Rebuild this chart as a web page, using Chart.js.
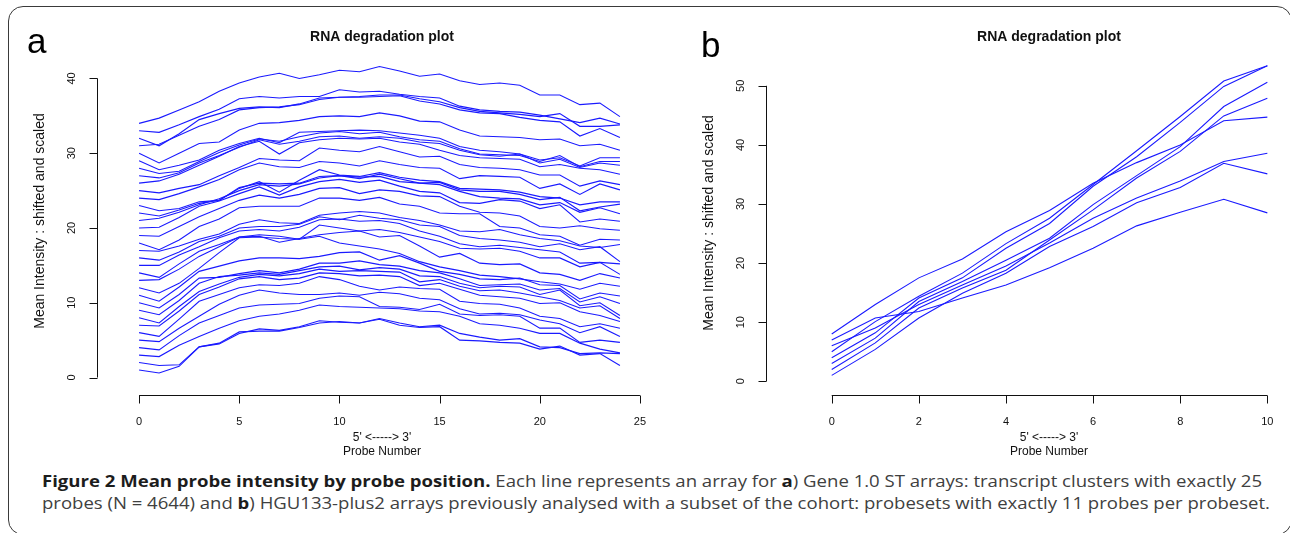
<!DOCTYPE html>
<html>
<head>
<meta charset="utf-8">
<script src="https://cdn.jsdelivr.net/npm/chart.js@4.4.1/dist/chart.umd.min.js"></script>
<style>
  html, body { margin: 0; padding: 0; background: #fff; }
  body { width: 1290px; height: 533px; position: relative; overflow: hidden; }
  canvas { position: absolute; top: 0; }
  #frame {
    position: absolute; left: 8px; top: 6px; width: 1284px; height: 529px;
    border: 1.6px solid #3a3a3a; border-radius: 15px; box-sizing: border-box;
  }
  .tag { position: absolute; font: 35px/35px "Liberation Sans", Arial, sans-serif; color: #000; }
  .cap {
    position: absolute; left: 42px; white-space: nowrap; display: inline-block;
    font: 16px/22px "Open Sans", "Noto Sans", sans-serif; color: #404040;
    transform-origin: 0 50%;
  }
  .cap b { color: #1c1c1c; font-weight: 700; }
</style>
</head>
<body>
<div id="frame"></div>
<canvas id="panelA" width="660" height="470" style="left:0"></canvas>
<canvas id="panelB" width="630" height="470" style="left:660px"></canvas>
<div class="tag" style="left:27px; top:23px">a</div>
<div class="tag" style="left:701px; top:27px">b</div>
<div id="cap1" class="cap" style="top:470px"><b>Figure 2 Mean probe intensity by probe position.</b> Each line represents an array for <b>a</b>) Gene 1.0 ST arrays: transcript clusters with exactly 25</div>
<div id="cap2" class="cap" style="top:492px">probes (N = 4644) and <b>b</b>) HGU133-plus2 arrays previously analysed with a subset of the cohort: probesets with exactly 11 probes per probeset.</div>

<script>
// probe positions
const probeA = [0, 1, 2, 3, 4, 5, 6, 7, 8, 9, 10, 11, 12, 13, 14, 15, 16, 17, 18, 19, 20, 21, 22, 23, 24];
const probeB = [0, 1, 2, 3, 4, 5, 6, 7, 8, 9, 10];

// tick labels
const xTicksA = [0, 5, 10, 15, 20, 25];
const yTicksA = [0, 10, 20, 30, 40];
const xTicksB = [0, 2, 4, 6, 8, 10];
const yTicksB = [0, 10, 20, 30, 40, 50];

const titleText = 'RNA degradation plot';
const yTitle = 'Mean Intensity : shifted and scaled';
const xTitle = ["5' <-----> 3'", 'Probe Number'];

// panel a: Gene 1.0 ST arrays (one line per array)
const a01 = [1.0, 0.6, 1.5, 4.1, 4.6, 6.1, 6.2, 6.2, 6.7, 7.3, 7.5, 7.3, 7.8, 7.0, 6.7, 6.8, 5.0, 4.9, 4.7, 4.6, 3.8, 4.2, 3.0, 3.2, 1.6];
const a02 = [2.0, 1.6, 1.7, 4.1, 4.5, 5.9, 6.5, 6.3, 6.8, 7.6, 7.4, 7.3, 7.9, 7.3, 6.8, 7.0, 5.9, 5.4, 5.0, 5.2, 4.1, 4.0, 3.2, 3.3, 3.2];
const a03 = [3.0, 2.8, 4.3, 5.5, 6.6, 7.6, 8.2, 8.5, 9.0, 9.7, 9.5, 9.4, 9.3, 9.2, 8.9, 8.8, 8.2, 7.2, 7.0, 6.6, 5.9, 5.9, 4.6, 3.8, 3.3];
const a04 = [4.0, 3.7, 5.6, 7.3, 8.3, 9.3, 9.7, 9.8, 9.9, 10.6, 10.9, 10.8, 9.5, 9.4, 9.1, 9.8, 8.5, 8.3, 8.4, 8.2, 6.6, 6.6, 4.7, 5.0, 4.7];
const a05 = [5.0, 4.8, 6.6, 8.2, 9.8, 11.0, 11.7, 11.3, 11.1, 11.1, 11.3, 11.0, 11.4, 11.2, 10.6, 10.4, 9.2, 8.5, 8.6, 8.4, 7.7, 7.2, 6.0, 6.8, 5.5];
const a06 = [6.0, 5.5, 7.8, 10.2, 11.1, 12.0, 12.4, 12.3, 12.6, 13.5, 13.1, 12.2, 11.7, 12.1, 11.9, 11.8, 10.2, 9.9, 9.8, 9.3, 8.2, 7.9, 6.8, 7.2, 6.6];
const a07 = [7.0, 6.9, 8.9, 11.1, 12.1, 13.2, 13.5, 13.1, 13.3, 14.0, 13.9, 13.6, 13.7, 13.5, 12.3, 12.6, 11.8, 11.0, 10.8, 10.6, 9.9, 10.0, 8.8, 8.3, 7.5];
const a08 = [8.0, 7.3, 9.5, 11.5, 12.5, 13.4, 13.8, 13.6, 13.9, 14.5, 14.2, 14.3, 14.2, 14.1, 12.8, 13.1, 12.2, 11.6, 11.7, 11.3, 10.8, 10.3, 9.3, 9.6, 7.9];
const a09 = [9.0, 8.4, 10.3, 12.6, 13.5, 13.7, 14.0, 13.8, 14.3, 14.8, 14.9, 14.4, 14.7, 14.5, 13.6, 13.5, 12.6, 12.0, 12.2, 12.1, 11.1, 11.7, 9.6, 10.0, 8.3];
const a10 = [10.0, 9.3, 11.1, 13.3, 13.4, 13.9, 14.3, 14.0, 14.5, 15.3, 15.3, 15.6, 15.1, 14.9, 14.3, 14.0, 13.2, 12.3, 12.4, 12.5, 11.7, 11.9, 10.1, 10.8, 9.9];
const a11 = [11.0, 10.2, 12.1, 14.2, 14.9, 15.6, 16.0, 16.0, 15.9, 16.2, 16.7, 16.8, 15.7, 16.3, 15.3, 14.2, 13.8, 13.2, 13.1, 13.3, 12.4, 12.3, 10.5, 11.3, 10.9];
const a12 = [12.0, 11.3, 12.6, 14.6, 16.7, 18.7, 18.8, 18.6, 18.5, 18.9, 18.0, 17.6, 17.2, 16.6, 15.5, 14.8, 14.3, 13.7, 13.5, 13.2, 12.8, 12.5, 11.8, 12.6, 12.2];
const a13 = [13.0, 13.1, 14.5, 16.2, 17.5, 18.8, 18.9, 18.1, 18.6, 19.1, 19.4, 19.6, 18.8, 19.0, 17.6, 16.1, 16.6, 15.3, 15.1, 15.2, 14.0, 13.8, 13.0, 13.9, 13.3];
const a14 = [14.0, 13.4, 15.2, 16.9, 17.8, 18.8, 19.1, 18.9, 18.5, 20.4, 20.0, 19.6, 19.8, 19.4, 18.8, 18.2, 17.3, 17.2, 17.3, 16.9, 16.0, 16.0, 14.8, 15.4, 13.8];
const a15 = [15.0, 15.0, 16.4, 17.5, 18.7, 19.6, 19.8, 19.6, 20.1, 21.1, 21.2, 20.9, 21.0, 20.6, 19.6, 18.9, 17.9, 17.5, 17.7, 17.4, 17.1, 16.8, 15.3, 15.4, 15.2];
const a16 = [16.0, 15.7, 16.8, 18.2, 18.9, 20.0, 20.2, 20.2, 20.5, 21.5, 21.1, 21.7, 21.3, 21.1, 20.4, 20.2, 19.0, 18.6, 18.4, 18.1, 17.5, 17.9, 17.1, 17.5, 15.5];
const a17 = [17.0, 16.9, 17.6, 18.5, 19.2, 20.5, 21.1, 20.7, 20.6, 21.7, 22.0, 22.2, 22.0, 21.4, 21.0, 20.4, 19.6, 19.5, 19.8, 19.1, 18.6, 18.3, 17.6, 17.4, 17.8];
const a18 = [18.0, 17.1, 18.4, 20.2, 21.2, 22.7, 22.9, 22.9, 22.9, 24.0, 24.0, 23.7, 24.1, 23.2, 22.9, 22.0, 21.9, 21.9, 20.2, 20.0, 19.1, 18.9, 17.7, 18.5, 18.4];
const a19 = [19.0, 18.9, 20.2, 21.5, 22.6, 23.7, 24.4, 24.0, 24.5, 25.3, 25.4, 24.6, 25.1, 24.9, 24.3, 24.2, 22.9, 22.1, 22.0, 21.6, 20.2, 20.0, 20.3, 19.9, 19.7];
const a20 = [20.0, 20.1, 21.4, 22.9, 23.6, 24.6, 25.5, 24.4, 25.5, 26.2, 26.5, 26.1, 26.4, 25.6, 24.9, 24.7, 23.4, 23.3, 23.8, 23.6, 22.6, 23.1, 20.8, 21.2, 20.9];
const a21 = [21.0, 21.3, 22.1, 23.1, 23.9, 25.0, 25.8, 25.6, 25.9, 26.7, 27.0, 26.8, 26.9, 26.2, 26.0, 25.8, 24.9, 24.2, 24.0, 23.9, 23.1, 23.4, 22.1, 22.7, 21.9];
const a22 = [22.0, 21.6, 22.4, 23.3, 23.7, 25.4, 26.0, 25.9, 26.0, 26.9, 27.0, 26.6, 27.2, 26.6, 26.0, 26.1, 25.1, 24.9, 24.9, 24.5, 23.8, 24.1, 22.3, 22.8, 23.2];
const a23 = [23.0, 22.3, 22.6, 23.5, 23.7, 25.3, 26.2, 24.8, 26.4, 27.8, 27.1, 26.9, 27.4, 26.8, 26.4, 26.2, 25.3, 25.2, 25.1, 24.8, 24.2, 24.0, 23.1, 23.5, 23.5];
const a24 = [24.0, 23.8, 24.6, 25.5, 26.5, 27.8, 28.7, 28.2, 28.1, 28.9, 28.7, 28.3, 29.0, 28.5, 28.1, 28.0, 26.6, 27.0, 26.9, 26.8, 25.3, 25.9, 24.5, 25.9, 25.1];
const a25 = [25.0, 24.7, 25.3, 25.8, 27.0, 28.1, 29.3, 29.1, 29.0, 30.7, 30.4, 30.2, 30.9, 30.2, 29.5, 29.6, 28.5, 28.1, 28.0, 27.8, 27.1, 27.1, 25.6, 26.3, 25.8];
const a26 = [26.0, 26.3, 27.2, 28.4, 29.6, 30.9, 31.6, 29.9, 31.4, 31.8, 32.0, 31.9, 32.0, 31.5, 31.2, 30.4, 29.7, 29.4, 29.3, 29.2, 28.2, 28.5, 28.0, 27.8, 27.2];
const a27 = [27.0, 26.7, 27.4, 28.7, 29.7, 30.8, 31.8, 31.2, 31.6, 32.2, 32.3, 32.0, 32.2, 32.0, 31.5, 31.3, 30.4, 29.8, 29.6, 29.9, 28.7, 29.2, 28.1, 28.7, 28.4];
const a28 = [28.0, 27.3, 27.6, 28.9, 30.1, 31.1, 31.9, 31.6, 32.2, 32.7, 32.9, 32.6, 32.8, 32.2, 31.8, 31.6, 30.6, 29.9, 29.8, 29.7, 28.9, 29.7, 28.2, 28.9, 28.9];
const a29 = [29.0, 27.8, 28.4, 29.1, 30.4, 31.3, 32.0, 31.4, 32.8, 32.9, 33.0, 33.1, 33.0, 32.7, 32.4, 32.0, 30.9, 30.4, 30.2, 29.9, 29.1, 29.4, 28.3, 29.4, 29.4];
const a30 = [30.0, 28.7, 30.0, 31.3, 31.5, 33.1, 34.0, 34.1, 34.4, 34.9, 35.0, 34.9, 35.4, 35.0, 34.3, 34.2, 33.1, 32.3, 32.2, 32.1, 31.8, 31.9, 31.0, 31.2, 30.4];
const a31 = [31.0, 31.2, 32.4, 33.6, 34.5, 35.8, 36.1, 36.2, 36.5, 37.2, 37.5, 37.5, 37.6, 37.7, 37.0, 36.6, 35.8, 35.4, 35.3, 34.8, 34.4, 34.2, 32.3, 33.3, 32.1];
const a32 = [32.0, 31.0, 32.6, 34.5, 35.3, 36.0, 36.2, 36.1, 36.6, 37.4, 37.5, 37.6, 37.8, 37.8, 37.3, 36.9, 36.1, 35.6, 35.4, 35.2, 34.9, 35.3, 33.6, 33.6, 33.8];
const a33 = [33.0, 32.8, 33.8, 34.9, 35.9, 37.3, 37.6, 37.4, 37.6, 37.6, 38.5, 38.2, 38.3, 37.9, 37.6, 37.4, 36.3, 35.8, 35.6, 35.5, 35.1, 34.6, 34.1, 34.7, 33.9];
const a34 = [34.0, 34.7, 35.8, 36.9, 38.3, 39.4, 40.2, 40.7, 40.0, 40.5, 41.1, 40.9, 41.6, 41.0, 40.3, 40.6, 39.7, 39.2, 39.4, 39.1, 37.8, 37.8, 36.5, 36.7, 34.9];

// panel b: HGU133-plus2 arrays
const b1 = [1, 5.4, 10.7, 14.9, 18.3, 22.8, 26.2, 30.2, 32.8, 36.9, 35.1];
const b2 = [2, 6.5, 12.4, 15.8, 18.8, 23.9, 29.0, 34.4, 38.9, 44.9, 47.9];
const b3 = [3, 7.3, 13.5, 16.9, 20.5, 24.2, 29.9, 34.8, 39.7, 46.5, 50.6];
const b4 = [4, 8.2, 14.1, 17.5, 22.5, 26.7, 33.0, 38.0, 43.8, 49.9, 53.4];
const b5 = [5, 10.1, 14.4, 18.3, 23.3, 27.6, 33.3, 39.0, 44.8, 50.8, 53.4];
const b6 = [6, 9.0, 13.0, 16.3, 19.5, 23.4, 27.6, 31.0, 33.9, 37.2, 38.6];
const b7 = [7, 10.7, 11.8, 14.1, 16.3, 19.2, 22.5, 26.3, 28.6, 30.8, 28.5];
const b8 = [8, 13.0, 17.5, 20.7, 25.3, 28.9, 33.5, 37.0, 40.0, 44.1, 44.7];

const seriesA = [a01, a02, a03, a04, a05, a06, a07, a08, a09, a10, a11, a12, a13, a14, a15, a16, a17,
                 a18, a19, a20, a21, a22, a23, a24, a25, a26, a27, a28, a29, a30, a31, a32, a33, a34];
const seriesB = [b1, b2, b3, b4, b5, b6, b7, b8];

const lineBlue = '#1a1aff';
const rFont = '"Liberation Sans", Arial, Helvetica, sans-serif';

// R-like axes: lines only between first and last tick, detached labels
const rStyleAxes = {
    id: 'rStyleAxes',
    afterDraw(chart, args, opts) {
        const { ctx, chartArea } = chart;
        const xs = chart.scales.x;
        const ys = chart.scales.y;
        ctx.save();
        ctx.strokeStyle = '#111';
        ctx.fillStyle = '#111';
        ctx.lineWidth = 1;

        const yb = Math.round(chartArea.bottom) + 0.5;
        const xl = Math.round(chartArea.left) + 0.5;
        ctx.beginPath();
        ctx.moveTo(xs.getPixelForValue(opts.xTicks[0]), yb);
        ctx.lineTo(xs.getPixelForValue(opts.xTicks[opts.xTicks.length - 1]), yb);
        opts.xTicks.forEach(v => {
            const px = Math.round(xs.getPixelForValue(v)) + 0.5;
            ctx.moveTo(px, yb);
            ctx.lineTo(px, yb + 8);
        });
        ctx.moveTo(xl, ys.getPixelForValue(opts.yTicks[0]));
        ctx.lineTo(xl, ys.getPixelForValue(opts.yTicks[opts.yTicks.length - 1]));
        opts.yTicks.forEach(v => {
            const py = Math.round(ys.getPixelForValue(v)) + 0.5;
            ctx.moveTo(xl, py);
            ctx.lineTo(xl - 8, py);
        });
        ctx.stroke();

        ctx.font = `11px ${rFont}`;
        ctx.textAlign = 'center';
        ctx.textBaseline = 'middle';
        opts.xTicks.forEach(v => ctx.fillText(String(v), xs.getPixelForValue(v), yb + 26));
        opts.yTicks.forEach(v => {
            ctx.save();
            ctx.translate(xl - 26, ys.getPixelForValue(v));
            ctx.rotate(-Math.PI / 2);
            ctx.fillText(String(v), 0, 0);
            ctx.restore();
        });

        ctx.font = `12px ${rFont}`;
        xTitle.forEach((line, i) => ctx.fillText(line, opts.centerX, yb + 42 + i * 14));
        ctx.save();
        ctx.translate(xl - 57, opts.yTitleY);
        ctx.rotate(-Math.PI / 2);
        ctx.font = `14px ${rFont}`;
        ctx.fillText(yTitle, 0, 0);
        ctx.restore();

        ctx.font = `bold 14px ${rFont}`;
        ctx.textBaseline = 'alphabetic';
        ctx.fillText(titleText, opts.centerX, 40.5);
        ctx.restore();
    }
};

function buildPanel(canvasId, probes, series, xRange, yRange, padding, axisOpts) {
    const ctx = document.getElementById(canvasId).getContext('2d');
    return new Chart(ctx, {
        type: 'line',
        data: {
            datasets: series.map(vals => ({
                data: vals.map((v, i) => ({ x: probes[i], y: v })),
                borderColor: lineBlue,
                borderWidth: 1.1,
                pointRadius: 0,
                tension: 0,
                fill: false
            }))
        },
        options: {
            responsive: false,
            animation: false,
            devicePixelRatio: 1,
            layout: { padding: padding },
            scales: {
                x: { type: 'linear', min: xRange[0], max: xRange[1], display: false },
                y: { type: 'linear', min: yRange[0], max: yRange[1], display: false }
            },
            plugins: {
                legend: { display: false },
                tooltip: { enabled: false },
                rStyleAxes: axisOpts
            }
        },
        plugins: [rStyleAxes]
    });
}

buildPanel('panelA', probeA, seriesA, [-2.1, 26], [-2.34, 45.15],
    { left: 97, right: 0, top: 40, bottom: 75 },
    { xTicks: xTicksA, yTicks: yTicksA, centerX: 382, yTitleY: 221 });

buildPanel('panelB', probeB, seriesB, [-1.52, 10.52], [-2.32, 57.75],
    { left: 105.5, right: 0, top: 40, bottom: 75 },
    { xTicks: xTicksB, yTicks: yTicksB, centerX: 389, yTitleY: 223 });

// stretch caption lines to the measured line widths
const capLeft = 42;
[['cap1', 1262], ['cap2', 1270]].forEach(([id, right]) => {
    const el = document.getElementById(id);
    const w = el.getBoundingClientRect().width;
    el.style.transform = `scaleX(${(right - capLeft) / w})`;
});
</script>
</body>
</html>
